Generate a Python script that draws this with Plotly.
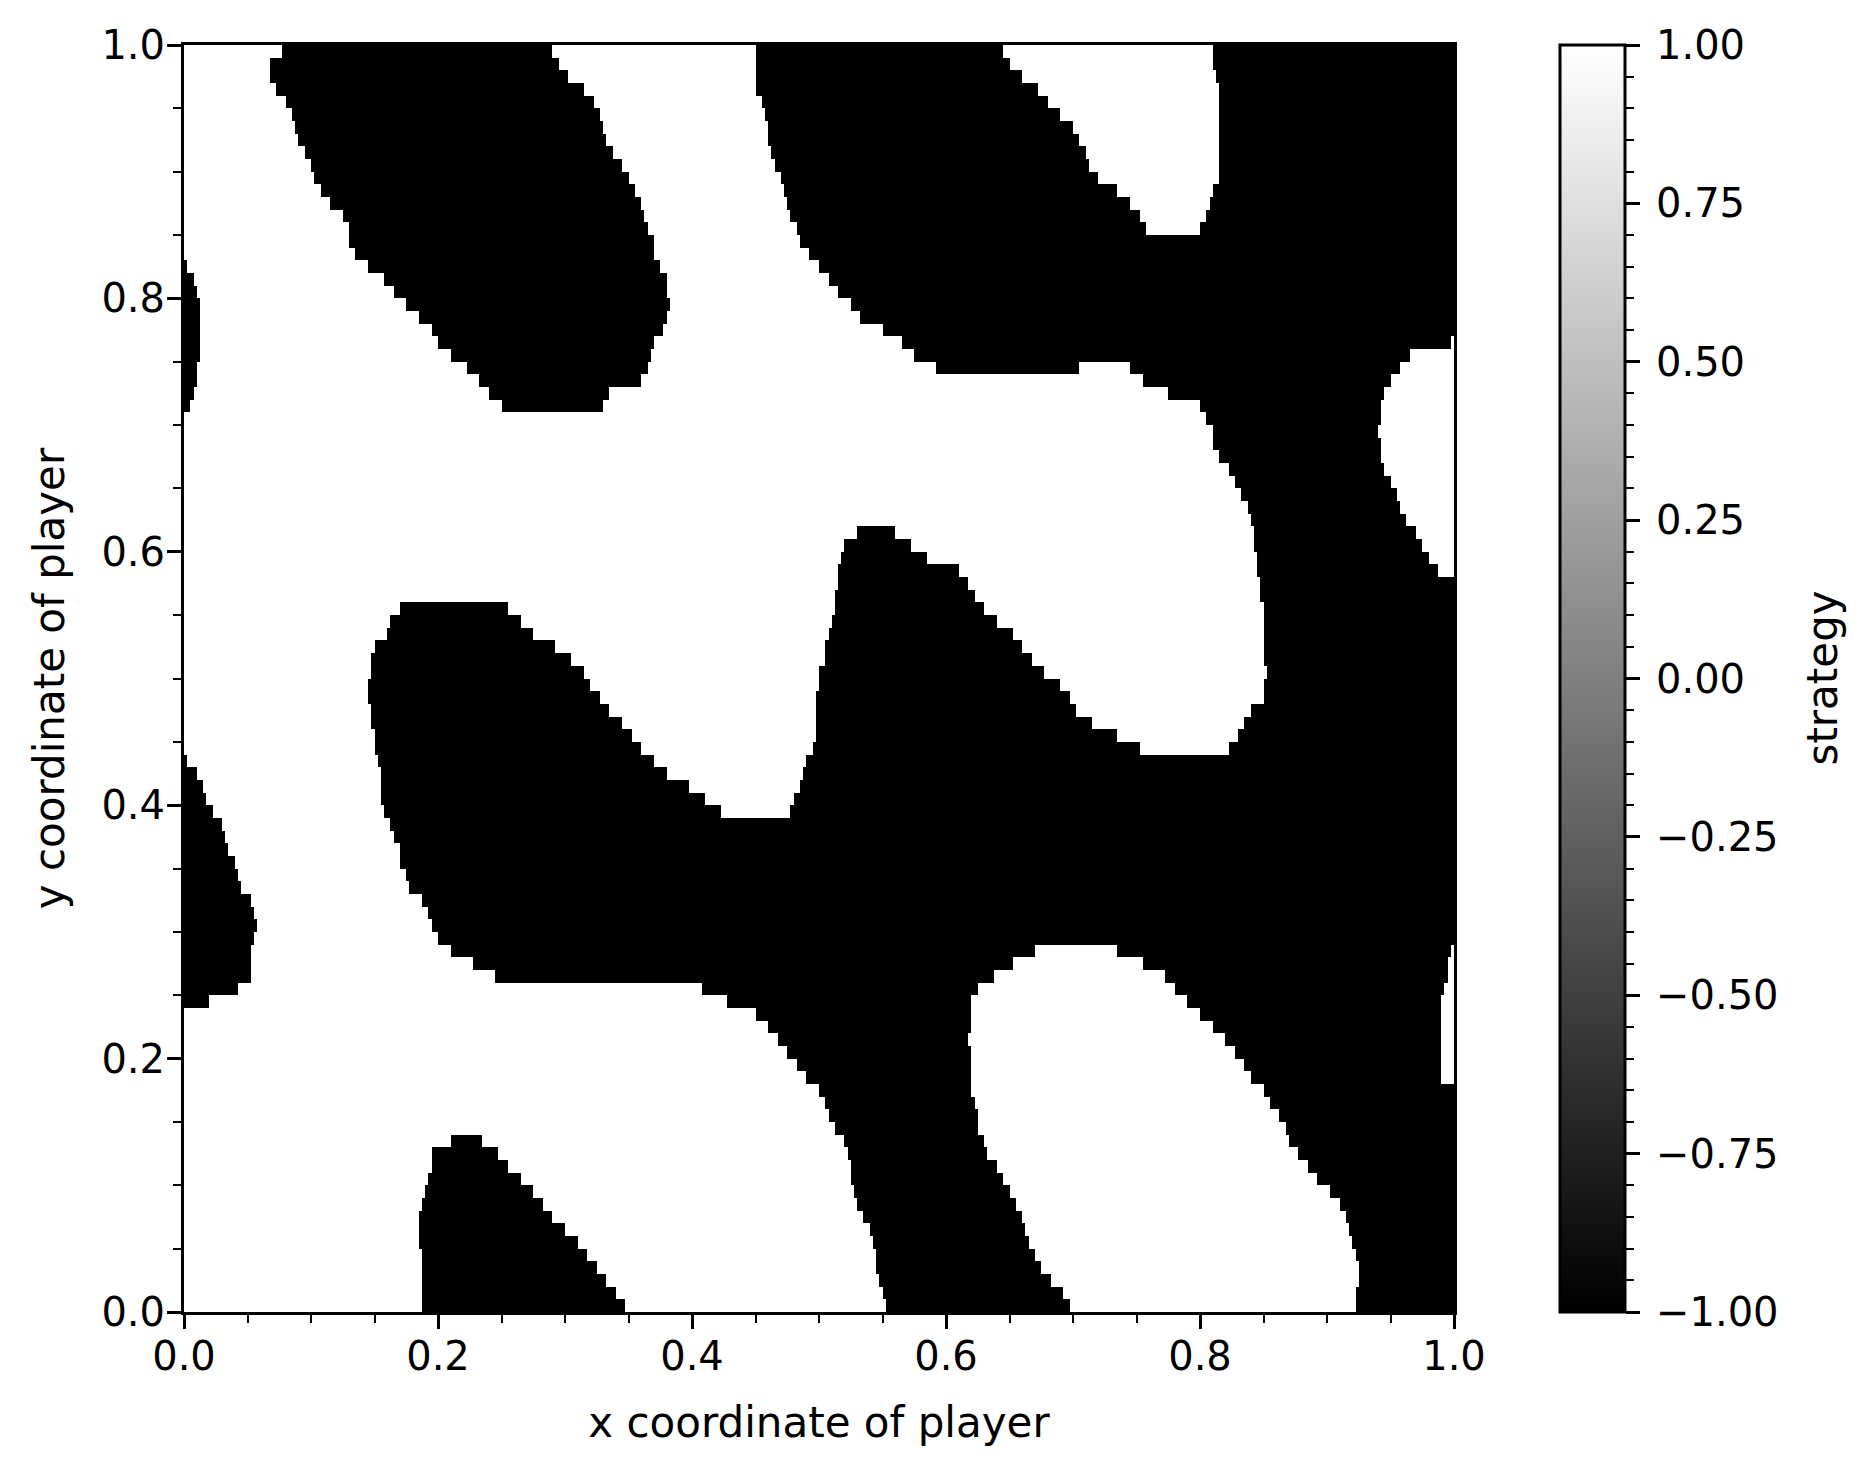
import numpy as np
import plotly.graph_objects as go

# Strategy field. Each row is 0.01 tall (listed top to
# bottom); the tuples are the x-intervals where the strategy is -1 (black),
# everything else in the row is +1 (white).
row_y = [round(0.995 - 0.01 * i, 3) for i in range(100)]

black_runs = [
    # y = 0.995 .. 0.675
    [(0.078, 0.289), (0.449, 0.644), (0.810, 1.0)],
    [(0.068, 0.294), (0.450, 0.651), (0.811, 1.0)],
    [(0.067, 0.302), (0.450, 0.661), (0.812, 1.0)],
    [(0.072, 0.314), (0.451, 0.672), (0.814, 1.0)],
    [(0.080, 0.322), (0.455, 0.680), (0.815, 1.0)],
    [(0.084, 0.328), (0.458, 0.689), (0.815, 1.0)],
    [(0.087, 0.330), (0.460, 0.699), (0.815, 1.0)],
    [(0.090, 0.333), (0.461, 0.705), (0.814, 1.0)],
    [(0.094, 0.338), (0.462, 0.709), (0.814, 1.0)],
    [(0.099, 0.344), (0.465, 0.713), (0.814, 1.0)],
    [(0.103, 0.351), (0.470, 0.720), (0.814, 1.0)],
    [(0.108, 0.355), (0.473, 0.734), (0.810, 1.0)],
    [(0.115, 0.359), (0.476, 0.746), (0.808, 1.0)],
    [(0.124, 0.362), (0.478, 0.752), (0.804, 1.0)],
    [(0.129, 0.366), (0.482, 0.758), (0.799, 1.0)],
    [(0.131, 0.369), (0.486, 1.0)],
    [(0.134, 0.370), (0.492, 1.0)],
    [(0.0, 0.002), (0.145, 0.374), (0.500, 1.0)],
    [(0.0, 0.007), (0.158, 0.379), (0.508, 1.0)],
    [(0.0, 0.011), (0.166, 0.381), (0.516, 1.0)],
    [(0.0, 0.013), (0.175, 0.382), (0.524, 1.0)],
    [(0.0, 0.013), (0.185, 0.381), (0.532, 1.0)],
    [(0.0, 0.013), (0.196, 0.378), (0.549, 1.0)],
    [(0.0, 0.013), (0.201, 0.369), (0.565, 0.997)],
    [(0.0, 0.012), (0.210, 0.368), (0.575, 0.966)],
    [(0.0, 0.011), (0.223, 0.366), (0.592, 0.704), (0.745, 0.957)],
    [(0.0, 0.010), (0.232, 0.360), (0.756, 0.950)],
    [(0.0, 0.008), (0.240, 0.336), (0.774, 0.945)],
    [(0.0, 0.005), (0.250, 0.330), (0.801, 0.943)],
    [(0.806, 0.942)],
    [(0.809, 0.941)],
    [(0.810, 0.942)],
    [(0.814, 0.943)],
    # y = 0.665 .. 0.335
    [(0.823, 0.946)],
    [(0.827, 0.950)],
    [(0.833, 0.954)],
    [(0.837, 0.957)],
    [(0.840, 0.963)],
    [(0.530, 0.560), (0.842, 0.970)],
    [(0.521, 0.572), (0.843, 0.976)],
    [(0.517, 0.586), (0.844, 0.981)],
    [(0.515, 0.610), (0.846, 0.987)],
    [(0.514, 0.617), (0.847, 1.0)],
    [(0.513, 0.623), (0.848, 1.0)],
    [(0.169, 0.256), (0.512, 0.631), (0.849, 1.0)],
    [(0.163, 0.264), (0.510, 0.640), (0.850, 1.0)],
    [(0.159, 0.275), (0.507, 0.652), (0.850, 1.0)],
    [(0.150, 0.293), (0.506, 0.661), (0.850, 1.0)],
    [(0.148, 0.306), (0.504, 0.668), (0.851, 1.0)],
    [(0.148, 0.314), (0.499, 0.677), (0.852, 1.0)],
    [(0.146, 0.320), (0.499, 0.689), (0.850, 1.0)],
    [(0.146, 0.328), (0.498, 0.697), (0.849, 1.0)],
    [(0.147, 0.336), (0.498, 0.702), (0.841, 1.0)],
    [(0.148, 0.345), (0.497, 0.715), (0.834, 1.0)],
    [(0.150, 0.353), (0.497, 0.736), (0.830, 1.0)],
    [(0.151, 0.361), (0.494, 0.752), (0.822, 1.0)],
    [(0.0, 0.002), (0.152, 0.371), (0.491, 1.0)],
    [(0.0, 0.009), (0.154, 0.379), (0.487, 1.0)],
    [(0.0, 0.014), (0.155, 0.398), (0.484, 1.0)],
    [(0.0, 0.018), (0.156, 0.411), (0.481, 1.0)],
    [(0.0, 0.023), (0.157, 0.422), (0.478, 1.0)],
    [(0.0, 0.029), (0.162, 1.0)],
    [(0.0, 0.032), (0.166, 1.0)],
    [(0.0, 0.036), (0.169, 1.0)],
    [(0.0, 0.039), (0.170, 1.0)],
    [(0.0, 0.043), (0.174, 1.0)],
    [(0.0, 0.046), (0.178, 1.0)],
    # y = 0.325 .. 0.005
    [(0.0, 0.052), (0.187, 1.0)],
    [(0.0, 0.056), (0.193, 1.0)],
    [(0.0, 0.057), (0.196, 1.0)],
    [(0.0, 0.054), (0.201, 1.0)],
    [(0.0, 0.053), (0.210, 0.669), (0.736, 0.997)],
    [(0.0, 0.053), (0.227, 0.653), (0.756, 0.996)],
    [(0.0, 0.052), (0.245, 0.638), (0.772, 0.995)],
    [(0.0, 0.043), (0.407, 0.626), (0.780, 0.993)],
    [(0.0, 0.021), (0.427, 0.621), (0.790, 0.990)],
    [(0.450, 0.620), (0.800, 0.989)],
    [(0.460, 0.619), (0.809, 0.989)],
    [(0.468, 0.618), (0.820, 0.989)],
    [(0.476, 0.619), (0.828, 0.989)],
    [(0.483, 0.620), (0.834, 0.989)],
    [(0.490, 0.621), (0.841, 0.990)],
    [(0.499, 0.621), (0.849, 1.0)],
    [(0.504, 0.623), (0.854, 1.0)],
    [(0.508, 0.624), (0.862, 1.0)],
    [(0.513, 0.626), (0.867, 1.0)],
    [(0.209, 0.236), (0.519, 0.630), (0.869, 1.0)],
    [(0.196, 0.247), (0.523, 0.632), (0.877, 1.0)],
    [(0.194, 0.256), (0.524, 0.639), (0.884, 1.0)],
    [(0.192, 0.265), (0.525, 0.644), (0.893, 1.0)],
    [(0.189, 0.274), (0.527, 0.649), (0.903, 1.0)],
    [(0.187, 0.283), (0.531, 0.654), (0.911, 1.0)],
    [(0.186, 0.291), (0.535, 0.659), (0.915, 1.0)],
    [(0.186, 0.299), (0.540, 0.663), (0.917, 1.0)],
    [(0.186, 0.310), (0.543, 0.666), (0.920, 1.0)],
    [(0.188, 0.318), (0.545, 0.669), (0.922, 1.0)],
    [(0.188, 0.325), (0.546, 0.675), (0.924, 1.0)],
    [(0.188, 0.332), (0.548, 0.683), (0.925, 1.0)],
    [(0.188, 0.341), (0.551, 0.693), (0.923, 1.0)],
    [(0.188, 0.347), (0.553, 0.697), (0.922, 1.0)],
]

axis_ticks = [0.0, 0.2, 0.4, 0.6, 0.8, 1.0]
axis_ticktext = ["0.0", "0.2", "0.4", "0.6", "0.8", "1.0"]
cbar_ticks = [-1.0, -0.75, -0.5, -0.25, 0.0, 0.25, 0.5, 0.75, 1.0]
cbar_ticktext = ["\u22121.00", "\u22120.75", "\u22120.50", "\u22120.25",
                 "0.00", "0.25", "0.50", "0.75", "1.00"]

# build the field on a fine x grid
x_cells = np.arange(400) * 0.0025 + 0.00125
z = np.ones((len(row_y), len(x_cells)))
for i, runs in enumerate(black_runs):
    for a, b in runs:
        z[i, (x_cells >= a) & (x_cells <= b)] = -1.0

W, H = 1870, 1474
FONT = "DejaVu Sans"
FS_TICK = 40
FS_LABEL = 42

# pixel placement; the page body adds an 8px margin, so everything is
# pulled up/left by that much
OFF = 8
px_l, px_r, px_t, px_b = 184 - OFF, 1454 - OFF, 45 - OFF, 1312 - OFF
cb_l, cb_r = 1560 - OFF, 1625 - OFF
label_x = 1822 - OFF

x_dom = [px_l / W, px_r / W]
y_dom = [(H - px_b) / H, (H - px_t) / H]
y_mid = (y_dom[0] + y_dom[1]) / 2

fig = go.Figure()

fig.add_trace(
    go.Heatmap(
        x=x_cells,
        y=row_y,
        z=z,
        zmin=-1,
        zmax=1,
        colorscale=[[0, "#000000"], [1, "#ffffff"]],
        zsmooth=False,
        hoverinfo="skip",
        colorbar=dict(
            x=cb_l / W,
            xanchor="left",
            y=y_mid,
            yanchor="middle",
            len=y_dom[1] - y_dom[0],
            lenmode="fraction",
            thickness=cb_r - cb_l,
            thicknessmode="pixels",
            xpad=0,
            ypad=0,
            outlinewidth=3,
            outlinecolor="black",
            tickvals=cbar_ticks,
            ticktext=["\u2009" + t for t in cbar_ticktext],
            ticks="outside",
            ticklen=14,
            tickwidth=3,
            tickcolor="black",
            tickfont=dict(family=FONT, size=FS_TICK, color="black"),
        ),
    )
)

# empty trace so the minor-tick axis of the colorbar gets drawn
fig.add_trace(go.Scatter(x=[None], y=[None], yaxis="y2", showlegend=False, hoverinfo="skip"))

axis_common = dict(
    range=[0, 1],
    tickvals=axis_ticks,
    ticktext=axis_ticktext,
    ticks="outside",
    ticklen=14,
    tickwidth=3,
    tickcolor="black",
    showline=True,
    linewidth=3,
    linecolor="black",
    mirror=True,
    showgrid=False,
    zeroline=False,
    automargin=False,
    tickfont=dict(family=FONT, size=FS_TICK, color="black"),
    minor=dict(ticks="outside", ticklen=8, tickwidth=2.4, tickcolor="black",
               dtick=0.05, tick0=0, showgrid=False),
)

fig.update_layout(
    width=W,
    height=H,
    margin=dict(l=0, r=0, t=0, b=0),
    paper_bgcolor="white",
    plot_bgcolor="white",
    showlegend=False,
    font=dict(family=FONT, size=FS_TICK, color="black"),
    xaxis=dict(
        domain=x_dom,
        anchor="y",
        ticklabelstandoff=-7,
        title=dict(text="x coordinate of player", standoff=30,
                   font=dict(family=FONT, size=FS_LABEL, color="black")),
        **axis_common,
    ),
    yaxis=dict(
        domain=y_dom,
        anchor="x",
        ticklabelstandoff=-6,
        title=dict(text="y coordinate of player", standoff=24,
                   font=dict(family=FONT, size=FS_LABEL, color="black")),
        **axis_common,
    ),
    yaxis2=dict(
        overlaying="y",
        anchor="free",
        position=cb_r / W,
        side="right",
        range=[-1, 1],
        dtick=0.25,
        ticks="",
        showticklabels=False,
        showline=False,
        showgrid=False,
        zeroline=False,
        minor=dict(ticks="outside", ticklen=8, tickwidth=2.4, tickcolor="black",
                   dtick=0.05, tick0=0, showgrid=False),
    ),
    annotations=[
        dict(
            text="strategy",
            x=label_x / W,
            y=y_mid,
            xref="paper",
            yref="paper",
            xanchor="center",
            yanchor="middle",
            textangle=-90,
            showarrow=False,
            font=dict(family=FONT, size=FS_LABEL, color="black"),
        )
    ],
)

fig.write_html("out.html")
